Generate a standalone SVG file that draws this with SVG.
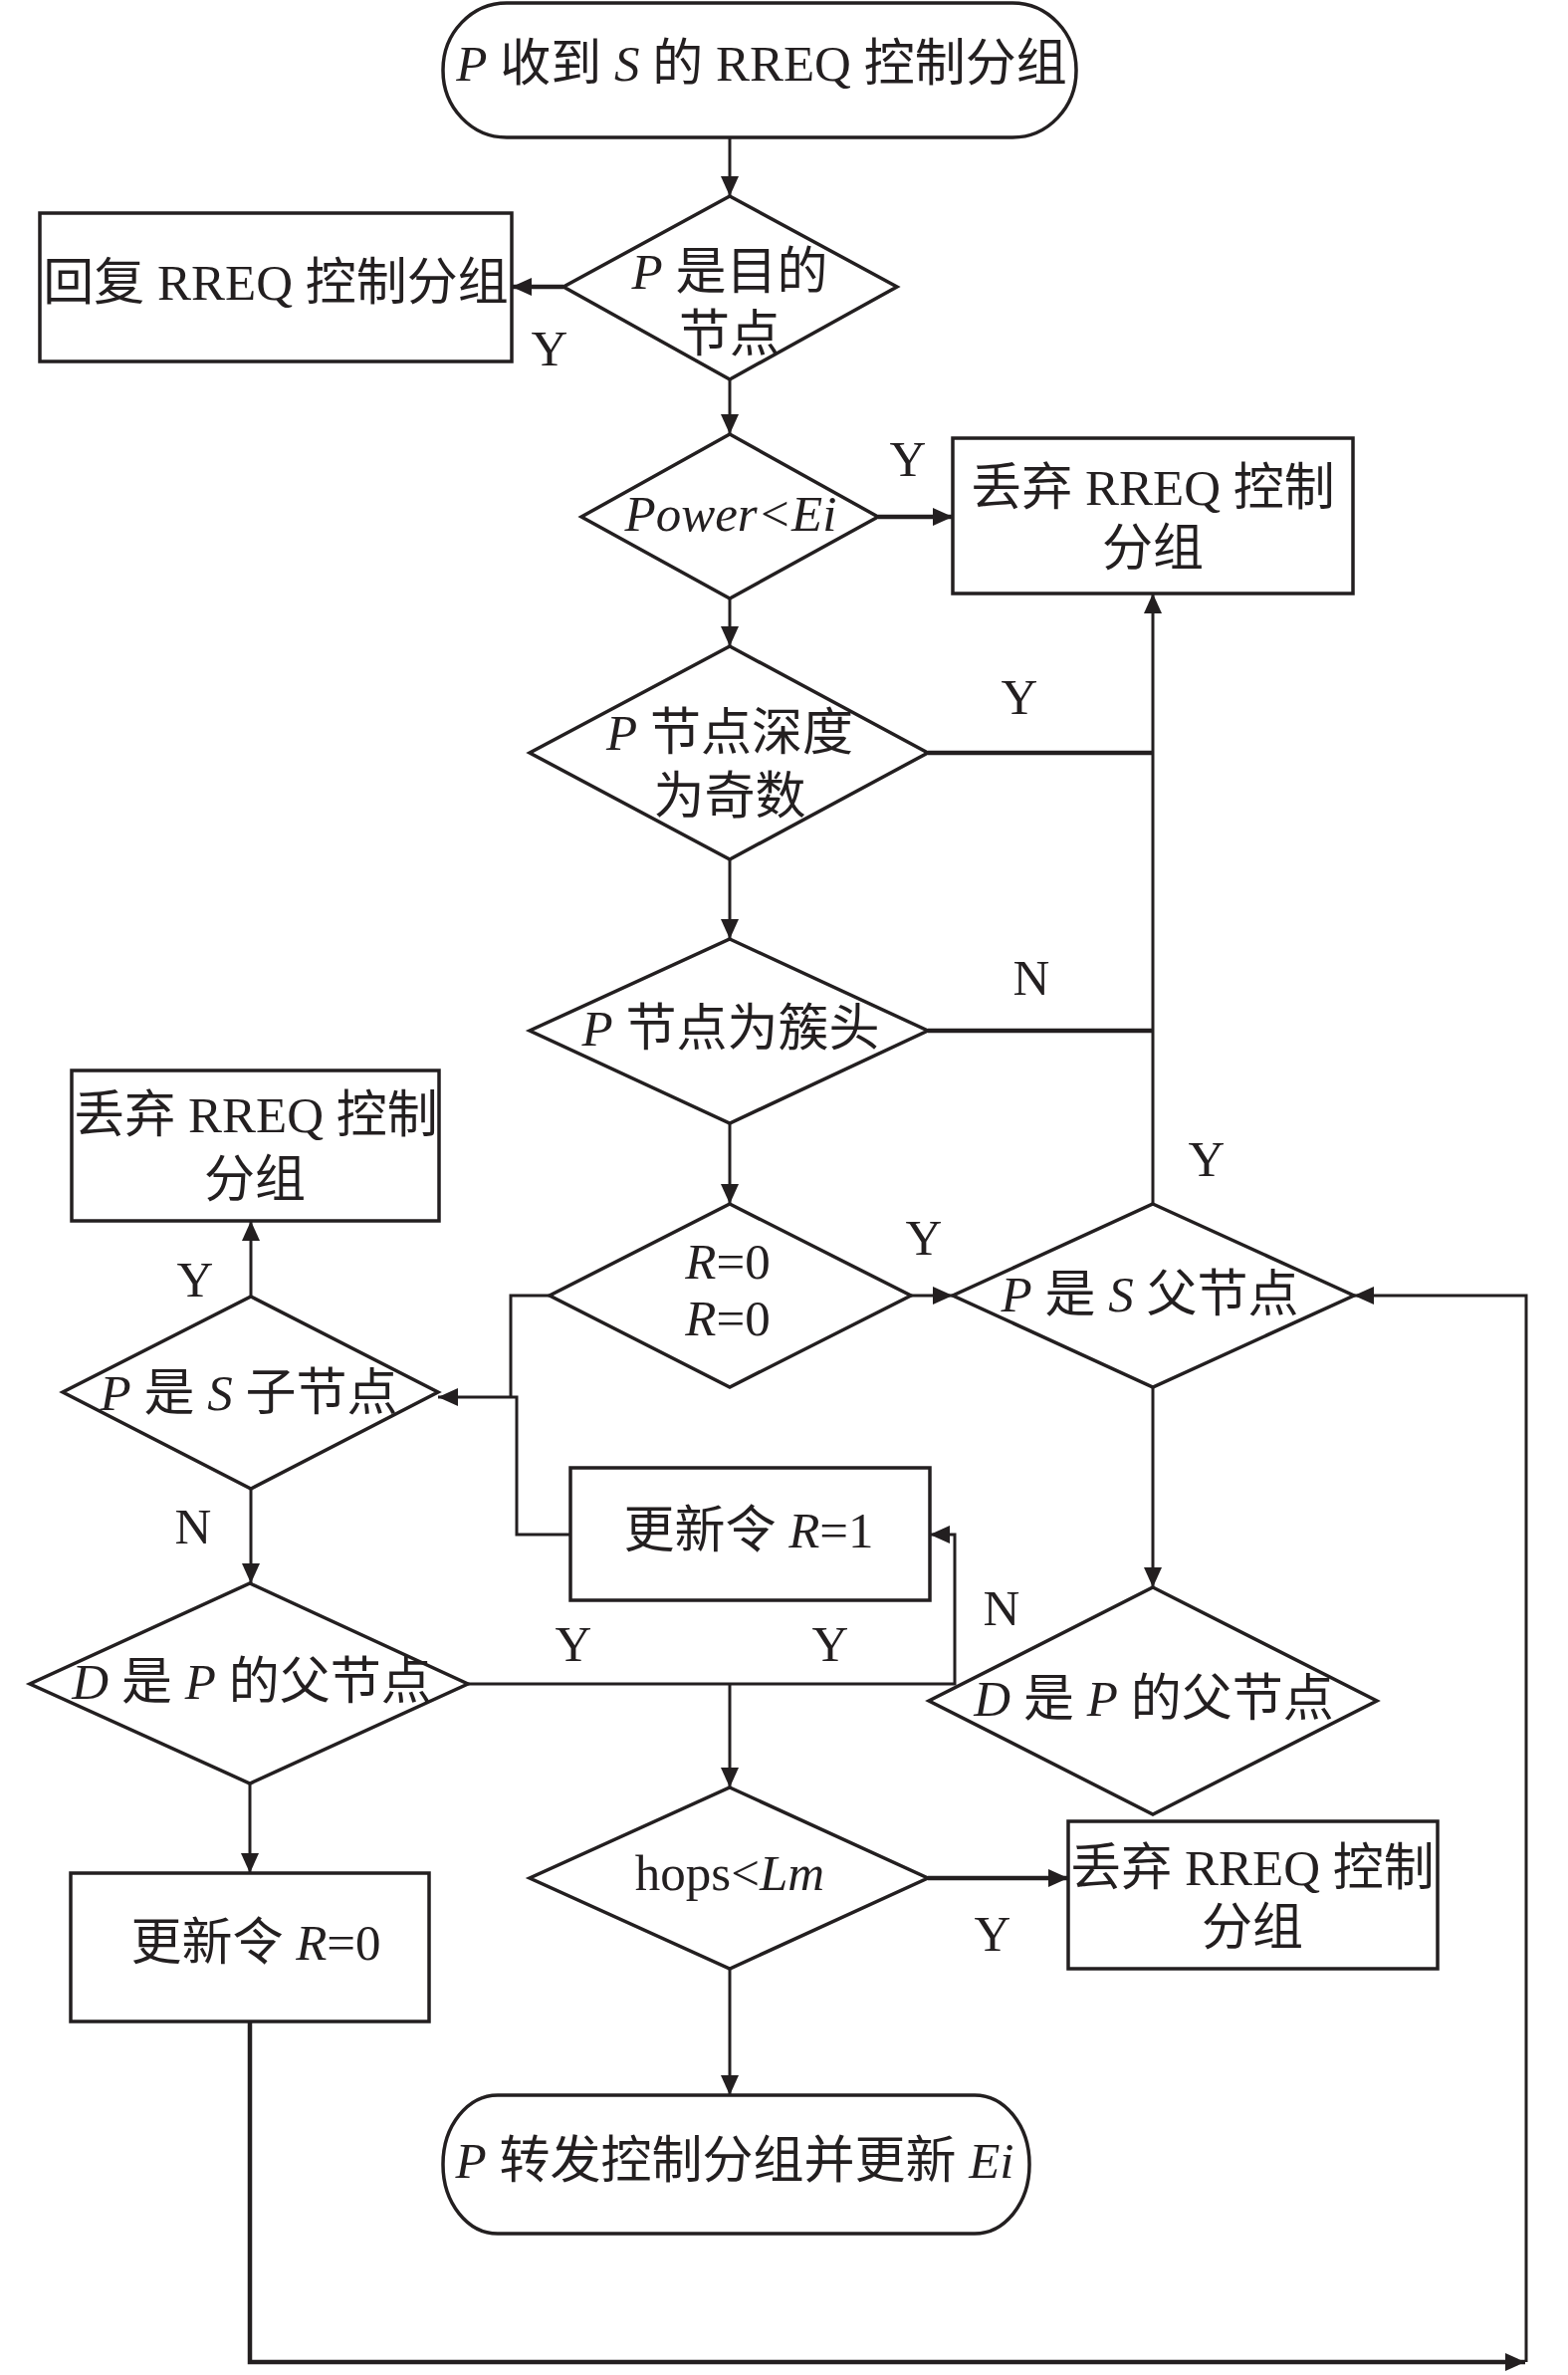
<svg xmlns="http://www.w3.org/2000/svg" width="1575" height="2385" viewBox="0 0 1575 2385">
<style>
.s{fill:#fff;stroke:#231f20;stroke-width:3.5}
.c{fill:none;stroke:#231f20;stroke-width:3}
.k{fill:none;stroke:#231f20;stroke-width:4.5}
text{font-family:"Liberation Serif","Noto Sans CJK SC",serif;font-size:51px;fill:#231f20;text-anchor:middle}
.i{font-style:italic}
</style>
<defs>
<marker id="a" markerUnits="userSpaceOnUse" markerWidth="21" markerHeight="18" refX="20" refY="9" orient="auto">
<path d="M0,0 L20,9 L0,18 z" fill="#231f20"/>
</marker>
</defs>
<rect width="1575" height="2385" fill="#fff"/>
<g id="connectors">
<path class="c" d="M733 138 V197" marker-end="url(#a)"/>
<path class="k" d="M566 288 H514" marker-end="url(#a)"/>
<path class="c" d="M733 381 V436" marker-end="url(#a)"/>
<path class="k" d="M882 519 H957" marker-end="url(#a)"/>
<path class="c" d="M733 601 V649" marker-end="url(#a)"/>
<path class="k" d="M932 756 H1158"/>
<path class="c" d="M733 863 V943" marker-end="url(#a)"/>
<path class="k" d="M932 1035 H1158"/>
<path class="c" d="M1158 1209 V596" marker-end="url(#a)"/>
<path class="c" d="M733 1128 V1209" marker-end="url(#a)"/>
<path class="c" d="M915 1301 H957" marker-end="url(#a)"/>
<path class="c" d="M552 1301 H513 V1403"/>
<path class="c" d="M573 1541 H519 V1403 H440" marker-end="url(#a)"/>
<path class="c" d="M252 1302 V1226" marker-end="url(#a)"/>
<path class="c" d="M252 1495 V1590" marker-end="url(#a)"/>
<path class="c" d="M470 1691 H959 V1541 H934" marker-end="url(#a)"/>
<path class="c" d="M733 1691 V1795" marker-end="url(#a)"/>
<path class="c" d="M1158 1393 V1594" marker-end="url(#a)"/>
<path class="k" d="M932 1886 H1073" marker-end="url(#a)"/>
<path class="c" d="M733 1977 V2104" marker-end="url(#a)"/>
<path class="c" d="M251 1791 V1881" marker-end="url(#a)"/>
<path class="k" d="M251 2030 V2372 H1532" marker-end="url(#a)"/>
<path class="c" d="M1533 2372 V1301 H1360" marker-end="url(#a)"/>
</g>
<g id="labels">
<text x="552" y="367">Y</text>
<text x="912" y="478">Y</text>
<text x="1024" y="717">Y</text>
<text x="1036" y="999">N</text>
<text x="1212" y="1181">Y</text>
<text x="928" y="1260">Y</text>
<text x="196" y="1302">Y</text>
<text x="194" y="1550">N</text>
<text x="576" y="1668">Y</text>
<text x="834" y="1668">Y</text>
<text x="1006" y="1632">N</text>
<text x="997" y="1959">Y</text>
</g>
<g id="start">
<rect class="s" x="445" y="3" width="636" height="135" rx="64" ry="67"/>
<text x="765" y="81"><tspan class="i">P</tspan> 收到 <tspan class="i">S</tspan> 的 RREQ 控制分组</text>
</g>
<g id="reply">
<rect class="s" x="40" y="214" width="474" height="149"/>
<text x="277" y="301">回复 RREQ 控制分组</text>
</g>
<g id="d-dest">
<polygon class="s" points="733,197 901,288 733,381 566,288"/>
<text x="733" y="290"><tspan class="i">P</tspan> 是目的</text>
<text x="733" y="353">节点</text>
</g>
<g id="d-power">
<polygon class="s" points="733,436 882,519 733,601 584,519"/>
<text x="734" y="533" class="i">Power&lt;Ei</text>
</g>
<g id="drop1">
<rect class="s" x="957" y="440" width="402" height="156"/>
<text x="1158" y="507">丢弃 RREQ 控制</text>
<text x="1158" y="568">分组</text>
</g>
<g id="d-depth">
<polygon class="s" points="733,649 932,756 733,863 532,756"/>
<text x="733" y="753"><tspan class="i">P</tspan> 节点深度</text>
<text x="733" y="817">为奇数</text>
</g>
<g id="d-head">
<polygon class="s" points="733,943 932,1035 733,1128 532,1035"/>
<text x="734" y="1050"><tspan class="i">P</tspan> 节点为簇头</text>
</g>
<g id="drop2">
<rect class="s" x="72" y="1075" width="369" height="151"/>
<text x="257" y="1137">丢弃 RREQ 控制</text>
<text x="256" y="1202">分组</text>
</g>
<g id="d-r">
<polygon class="s" points="733,1209 915,1301 733,1393 552,1301"/>
<text x="731" y="1284"><tspan class="i">R</tspan>=0</text>
<text x="731" y="1341"><tspan class="i">R</tspan>=0</text>
</g>
<g id="d-sparent">
<polygon class="s" points="1158,1209 1360,1301 1158,1393 957,1301"/>
<text x="1155" y="1317"><tspan class="i">P</tspan> 是 <tspan class="i">S</tspan> 父节点</text>
</g>
<g id="d-schild">
<polygon class="s" points="252,1302 440,1398 252,1495 63,1398"/>
<text x="250" y="1416"><tspan class="i">P</tspan> 是 <tspan class="i">S</tspan> 子节点</text>
</g>
<g id="set-r1">
<rect class="s" x="573" y="1474" width="361" height="133"/>
<text x="752" y="1554">更新令 <tspan class="i">R</tspan>=1</text>
</g>
<g id="d-dparent1">
<polygon class="s" points="251,1590 470,1691 251,1791 30,1691"/>
<text x="253" y="1706"><tspan class="i">D</tspan> 是 <tspan class="i">P</tspan> 的父节点</text>
</g>
<g id="d-dparent2">
<polygon class="s" points="1158,1594 1383,1708 1158,1822 933,1708"/>
<text x="1159" y="1723"><tspan class="i">D</tspan> 是 <tspan class="i">P</tspan> 的父节点</text>
</g>
<g id="d-hops">
<polygon class="s" points="733,1795 932,1886 733,1977 532,1886"/>
<text x="733" y="1898">hops&lt;<tspan class="i">Lm</tspan></text>
</g>
<g id="drop3">
<rect class="s" x="1073" y="1829" width="371" height="148"/>
<text x="1258" y="1893">丢弃 RREQ 控制</text>
<text x="1258" y="1953">分组</text>
</g>
<g id="set-r0">
<rect class="s" x="71" y="1881" width="360" height="149"/>
<text x="257" y="1968">更新令 <tspan class="i">R</tspan>=0</text>
</g>
<g id="end">
<rect class="s" x="445" y="2104" width="589" height="139" rx="55" ry="69"/>
<text x="738" y="2187"><tspan class="i">P</tspan> 转发控制分组并更新 <tspan class="i">Ei</tspan></text>
</g>
</svg>
